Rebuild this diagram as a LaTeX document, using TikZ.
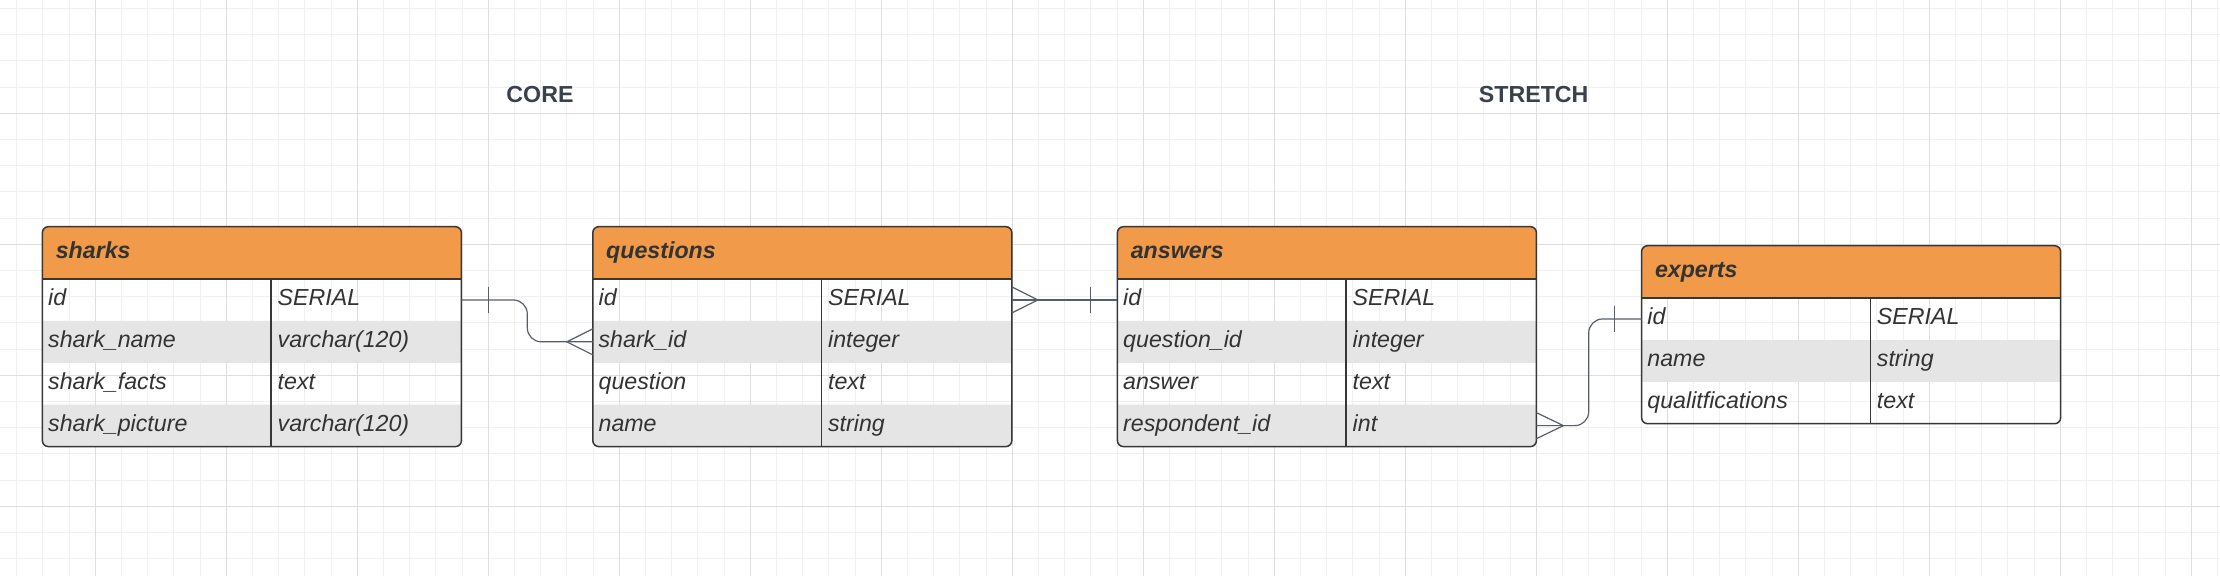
\documentclass[tikz,border=0pt]{standalone}
\usepackage{fontspec}
\setmainfont{Liberation Sans}
\usetikzlibrary{calc}
\pgfdeclarelayer{fills}
\pgfsetlayers{fills,main}
\definecolor{headcol}{RGB}{240,154,74}
\definecolor{rowgray}{RGB}{229,229,229}
\definecolor{textcol}{RGB}{51,51,51}
\definecolor{framecol}{RGB}{55,55,55}
\definecolor{linkcol}{RGB}{88,94,103}
\definecolor{slate}{RGB}{58,65,74}
\definecolor{gridlight}{RGB}{240,240,240}
\definecolor{griddark}{RGB}{222,222,222}
\begin{document}
\begin{tikzpicture}[x=0.5pt,y=-0.5pt,
 gridline/.style={draw=gridlight,line width=0.5pt},
 gridmajor/.style={draw=griddark,line width=0.5pt},
 head/.style={anchor=north west,outer sep=0pt,inner ysep=0pt,inner xsep=6.7pt,
   minimum width=209.5pt,minimum height=26.15pt,text width=196.1pt,align=left,
   text height=8.5pt,text depth=2.45pt,text=textcol,
   font=\fontsize{11.6}{14}\selectfont\bfseries\itshape},
 field/.style={anchor=north west,outer sep=0pt,inner ysep=0pt,inner xsep=2.9pt,
   minimum width=209.5pt,minimum height=20.95pt,text width=203.7pt,align=left,
   text height=8.5pt,text depth=2.45pt,text=textcol,
   font=\fontsize{11.6}{14}\selectfont\itshape},
 kind/.style={anchor=west,inner sep=0pt,outer sep=0pt,
   text height=8.5pt,text depth=2.45pt,text=textcol,
   font=\fontsize{11.6}{14}\selectfont\itshape},
 zone/.style={anchor=base,inner sep=0pt,text=slate,
   font=\fontsize{11.6}{14}\selectfont\bfseries},
 frame/.style={draw=framecol,line width=0.75pt,rounded corners=3pt},
 headline/.style={draw=framecol,line width=1pt},
 colline/.style={draw=framecol,line width=0.65pt},
 link/.style={draw=linkcol,line width=0.6pt}]
\useasboundingbox (0,0) rectangle (2220,576);
\begin{pgfonlayer}{fills}
\fill[white] (0,0) rectangle (2220,576);
\foreach \x in {16.7,42.9,...,2220} % light grid
  \draw[gridline] (\x,0) -- (\x,576);
\foreach \y in {8.5,34.7,...,576}
  \draw[gridline] (0,\y) -- (2220,\y);
\foreach \x in {95.3,226.3,...,2220} % darker grid
  \draw[gridmajor] (\x,0) -- (\x,576);
\foreach \y in {113.3,244.3,...,576}
  \draw[gridmajor] (0,\y) -- (2220,\y);
\end{pgfonlayer}

\node[zone] (core) at (540,102.3) {CORE};
\node[zone] (stretch) at (1533.7,102.3) {STRETCH};

% sharks
\node[head] (sharks) at (42.4,226.7) {sharks};
\foreach \f/\t [count=\i] in {id/SERIAL,shark\_name/varchar(120),shark\_facts/text,shark\_picture/varchar(120)}{
  \node[field] (sharks-\i) at ($(sharks.south west)+(0,{(\i-1)*41.9})$) {\f};
  \node[kind] (sharks-\i-t) at ([xshift=117.65pt]sharks-\i.west) {\t};}
\begin{pgfonlayer}{fills}
\begin{scope}
 \clip[rounded corners=3pt] (sharks.north west) rectangle (sharks-4.south east);
 \fill[headcol] (sharks.north west) rectangle (sharks.south east);
 \fill[rowgray] (sharks-2.north west) rectangle (sharks-2.south east)
   (sharks-4.north west) rectangle (sharks-4.south east);
\end{scope}
\end{pgfonlayer}
\draw[frame] (sharks.north west) rectangle (sharks-4.south east);
\draw[headline] (sharks.south west) -- (sharks.south east);
\draw[colline] ([xshift=114.3pt]sharks.south west) -- ([xshift=114.3pt]sharks-4.south west);

% questions
\node[head] (questions) at (592.8,226.7) {questions};
\foreach \f/\t [count=\i] in {id/SERIAL,shark\_id/integer,question/text,name/string}{
  \node[field] (questions-\i) at ($(questions.south west)+(0,{(\i-1)*41.9})$) {\f};
  \node[kind] (questions-\i-t) at ([xshift=117.65pt]questions-\i.west) {\t};}
\begin{pgfonlayer}{fills}
\begin{scope}
 \clip[rounded corners=3pt] (questions.north west) rectangle (questions-4.south east);
 \fill[headcol] (questions.north west) rectangle (questions.south east);
 \fill[rowgray] (questions-2.north west) rectangle (questions-2.south east)
   (questions-4.north west) rectangle (questions-4.south east);
\end{scope}
\end{pgfonlayer}
\draw[frame] (questions.north west) rectangle (questions-4.south east);
\draw[headline] (questions.south west) -- (questions.south east);
\draw[colline] ([xshift=114.3pt]questions.south west) -- ([xshift=114.3pt]questions-4.south west);

% answers
\node[head] (answers) at (1117.4,226.7) {answers};
\foreach \f/\t [count=\i] in {id/SERIAL,question\_id/integer,answer/text,respondent\_id/int}{
  \node[field] (answers-\i) at ($(answers.south west)+(0,{(\i-1)*41.9})$) {\f};
  \node[kind] (answers-\i-t) at ([xshift=117.65pt]answers-\i.west) {\t};}
\begin{pgfonlayer}{fills}
\begin{scope}
 \clip[rounded corners=3pt] (answers.north west) rectangle (answers-4.south east);
 \fill[headcol] (answers.north west) rectangle (answers.south east);
 \fill[rowgray] (answers-2.north west) rectangle (answers-2.south east)
   (answers-4.north west) rectangle (answers-4.south east);
\end{scope}
\end{pgfonlayer}
\draw[frame] (answers.north west) rectangle (answers-4.south east);
\draw[headline] (answers.south west) -- (answers.south east);
\draw[colline] ([xshift=114.3pt]answers.south west) -- ([xshift=114.3pt]answers-4.south west);

% experts
\node[head] (experts) at (1641.6,245.7) {experts};
\foreach \f/\t [count=\i] in {id/SERIAL,name/string,qualitfications/text}{
  \node[field] (experts-\i) at ($(experts.south west)+(0,{(\i-1)*41.9})$) {\f};
  \node[kind] (experts-\i-t) at ([xshift=117.65pt]experts-\i.west) {\t};}
\begin{pgfonlayer}{fills}
\begin{scope}
 \clip[rounded corners=3pt] (experts.north west) rectangle (experts-3.south east);
 \fill[headcol] (experts.north west) rectangle (experts.south east);
 \fill[rowgray] (experts-2.north west) rectangle (experts-2.south east);
\end{scope}
\end{pgfonlayer}
\draw[frame] (experts.north west) rectangle (experts-3.south east);
\draw[headline] (experts.south west) -- (experts.south east);
\draw[colline] ([xshift=114.3pt]experts.south west) -- ([xshift=114.3pt]experts-3.south west);

% relations
\coordinate (bend1) at (527.3,0);
\draw[link,rounded corners=7pt] (sharks-1.east) -- (sharks-1.east -| bend1)
  -- (bend1 |- questions-2.west) -- (questions-2.west);
\draw[link] ([xshift=13.65pt]sharks-1.east) ++(0,-13) -- ++(0,26); % one
\draw[link] (questions-2.west) ++(0,-13) -- ++(-26,13) -- ++(26,13); % many

\draw[link] (questions-1.east) -- (answers-1.west);
\draw[link] (questions-1.east) ++(0,-13) -- ++(26,13) -- ++(-26,13);
\draw[link] ([xshift=-13.4pt]answers-1.west) ++(0,-13) -- ++(0,26);

\coordinate (bend2) at (1588.7,0);
\draw[link,rounded corners=7pt] (answers-4.east) -- (answers-4.east -| bend2)
  -- (bend2 |- experts-1.west) -- (experts-1.west);
\draw[link] (answers-4.east) ++(0,-13) -- ++(27,13) -- ++(-27,13);
\draw[link] ([xshift=-13.45pt]experts-1.west) ++(0,-13) -- ++(0,26);
\end{tikzpicture}
\end{document}
